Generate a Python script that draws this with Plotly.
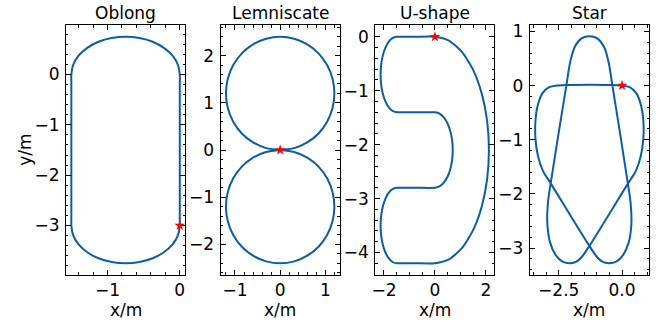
import plotly.graph_objects as go

# ---------------- data ----------------
titles = ["Oblong", "Lemniscate", "U-shape", "Star"]

oblong_x = [0, 0, 0, 0, 0, 0,
            -0.026, -0.100, -0.220, -0.375, -0.556, -0.75, -0.944, -1.125, -1.280, -1.400, -1.474, -1.5,
            -1.5, -1.5, -1.5, -1.5, -1.5,
            -1.474, -1.400, -1.280, -1.125, -0.944, -0.75, -0.556, -0.375, -0.220, -0.100, -0.026, 0]
oblong_y = [-3, -2.8, -2, -1, -0.2, 0,
            0.194, 0.375, 0.530, 0.650, 0.724, 0.75, 0.724, 0.650, 0.530, 0.375, 0.194, 0,
            -0.2, -1, -2, -2.8, -3,
            -3.194, -3.375, -3.530, -3.650, -3.724, -3.75, -3.724, -3.650, -3.530, -3.375, -3.194, -3]

lemni_x = [0, 0.311, 0.600, 0.849, 1.039, 1.159, 1.2, 1.159, 1.039, 0.849, 0.600, 0.311,
           0, -0.311, -0.600, -0.849, -1.039, -1.159, -1.2, -1.159, -1.039, -0.849, -0.600, -0.311,
           0, 0.311, 0.600, 0.849, 1.039, 1.159, 1.2, 1.159, 1.039, 0.849, 0.600, 0.311,
           0, -0.311, -0.600, -0.849, -1.039, -1.159, -1.2, -1.159, -1.039, -0.849, -0.600, -0.311, 0]
lemni_y = [0, 0.041, 0.161, 0.351, 0.600, 0.889, 1.2, 1.511, 1.800, 2.049, 2.239, 2.359,
           2.4, 2.359, 2.239, 2.049, 1.800, 1.511, 1.2, 0.889, 0.600, 0.351, 0.161, 0.041,
           0, -0.041, -0.161, -0.351, -0.600, -0.889, -1.2, -1.511, -1.800, -2.049, -2.239, -2.359,
           -2.4, -2.359, -2.239, -2.049, -1.800, -1.511, -1.2, -0.889, -0.600, -0.351, -0.161, -0.041, 0]

ushape_x = [0, -0.75, -1.3, -1.5,
            -1.663, -1.815, -1.945, -2.046, -2.109, -2.13, -2.109, -2.046, -1.945, -1.815, -1.663, -1.5,
            -1.3, -0.75, 0,
            0.181, 0.350, 0.495, 0.606, 0.676, 0.7, 0.676, 0.606, 0.495, 0.350, 0.181, 0,
            -0.75, -1.3, -1.5,
            -1.663, -1.815, -1.945, -2.046, -2.109, -2.13, -2.109, -2.046, -1.945, -1.815, -1.663, -1.5,
            -1.3, -0.75, 0,
            0.549, 1.060, 1.499, 1.836, 2.048, 2.12, 2.048, 1.836, 1.499, 1.060, 0.549, 0]
ushape_y = [0, 0, 0, 0,
            -0.024, -0.094, -0.205, -0.350, -0.519, -0.7, -0.881, -1.050, -1.195, -1.306, -1.376, -1.4,
            -1.4, -1.4, -1.4,
            -1.424, -1.494, -1.605, -1.750, -1.919, -2.1, -2.281, -2.450, -2.595, -2.706, -2.776, -2.8,
            -2.8, -2.8, -2.8,
            -2.824, -2.894, -3.005, -3.150, -3.319, -3.5, -3.681, -3.850, -3.995, -4.106, -4.176, -4.2,
            -4.2, -4.2, -4.2,
            -4.128, -3.919, -3.585, -3.150, -2.644, -2.1, -1.556, -1.050, -0.615, -0.281, -0.072, 0]

star_x = [0, 0.30, 0.56, 0.74, 0.84, 0.84, 0.74, 0.55,
          0.23, -1.29,
          -1.60, -1.80, -2.04, -2.35, -2.62, -2.84, -2.95, -2.93,
          -2.82, -2.20,
          -2.04, -1.86, -1.60, -1.29, -0.98, -0.72, -0.54,
          -0.38, 0.23,
          0.34, 0.37, 0.26, 0.04, -0.23, -0.54, -0.78, -0.98,
          -1.29, -2.81,
          -3.13, -3.32, -3.42, -3.42, -3.32, -3.14, -2.88,
          -2.58, 0]
star_y = [0, -0.03, -0.14, -0.35, -0.65, -0.98, -1.30, -1.57,
          -1.81, -2.96,
          -3.17, -3.25, -3.28, -3.25, -3.13, -2.90, -2.55, -2.18,
          -1.81, 0.0,
          0.45, 0.72, 0.87, 0.91, 0.87, 0.72, 0.45,
          0.0, -1.81,
          -2.18, -2.55, -2.90, -3.13, -3.25, -3.28, -3.25, -3.17,
          -2.96, -1.81,
          -1.57, -1.30, -0.98, -0.65, -0.35, -0.14, -0.03,
          0.0, 0]

start_x = [0, 0, 0, 0]
start_y = [-3, 0, 0, 0]

x_ranges = [[-1.575, 0.075], [-1.32, 1.32], [-2.345, 2.335], [-3.645, 1.065]]
y_ranges = [[-3.975, 0.975], [-2.64, 2.64], [-4.41, 0.21], [-3.49, 1.11]]
x_dtick = [1, 1, 2, 2.5]
x_minor = [0.2, 0.2, 0.5, 0.5]
x_fmt = ["", "", "", ".1f"]
y_dtick = [1, 1, 1, 1]
y_minor = [0.2, 0.2, 0.2, 0.2]

shapes_x = [oblong_x, lemni_x, ushape_x, star_x]
shapes_y = [oblong_y, lemni_y, ushape_y, star_y]
smoothing = [0.6, 1.0, 0.6, 1.0]

# ---------------- layout ----------------
W, H = 661, 324
FONT = "DejaVu Sans"
FS = 17
LINE_COLOR = "#0C5DA5"
lefts = [62.3, 217.85, 373.4, 528.95]
box_w = 120.0
top_px, bot_px = 21.7, 274.0

fig = go.Figure()
layout = dict(width=W, height=H, margin=dict(l=0, r=0, t=0, b=0),
              paper_bgcolor="white", plot_bgcolor="white", showlegend=False,
              font=dict(family=FONT, size=FS, color="black"))
annotations = []

for i in range(4):
    xa = "x" if i == 0 else f"x{i+1}"
    ya = "y" if i == 0 else f"y{i+1}"
    fig.add_trace(go.Scatter(x=shapes_x[i], y=shapes_y[i], mode="lines",
                             line=dict(color=LINE_COLOR, width=2, shape="spline",
                                       smoothing=smoothing[i]),
                             xaxis=xa, yaxis=ya, hoverinfo="skip"))
    fig.add_trace(go.Scatter(x=[start_x[i]], y=[start_y[i]], mode="markers",
                             marker=dict(symbol="star", size=8, color="red", line=dict(width=0)),
                             xaxis=xa, yaxis=ya, hoverinfo="skip"))
    x0 = lefts[i] / W
    x1 = (lefts[i] + box_w) / W
    y0 = (H - bot_px) / H
    y1 = (H - top_px) / H
    common = dict(showline=True, linecolor="black", linewidth=1, mirror="allticks",
                  ticks="inside", ticklen=5, tickwidth=1, tickcolor="black",
                  showgrid=False, zeroline=False,
                  tickfont=dict(family=FONT, size=FS, color="black"))
    xkey = "xaxis" if i == 0 else f"xaxis{i+1}"
    ykey = "yaxis" if i == 0 else f"yaxis{i+1}"
    layout[xkey] = dict(common, domain=[x0, x1], range=x_ranges[i], anchor=ya,
                        tick0=0, dtick=x_dtick[i], tickformat=x_fmt[i],
                        minor=dict(ticks="inside", ticklen=2.5, tickwidth=1, tickcolor="black",
                                   dtick=x_minor[i], tick0=0, showgrid=False))
    layout[ykey] = dict(common, domain=[y0, y1], range=y_ranges[i], anchor=xa,
                        tick0=0, dtick=y_dtick[i], ticklabelstandoff=2,
                        minor=dict(ticks="inside", ticklen=2.5, tickwidth=1, tickcolor="black",
                                   dtick=y_minor[i], tick0=0, showgrid=False))
    cx = (lefts[i] + box_w / 2) / W
    annotations.append(dict(text=titles[i], x=cx, y=(H - 9.0) / H, xref="paper", yref="paper",
                            xanchor="center", yanchor="middle", showarrow=False,
                            font=dict(family=FONT, size=FS, color="black")))
    annotations.append(dict(text="x/m", x=cx, y=(H - 309.5) / H, xref="paper", yref="paper",
                            xanchor="center", yanchor="middle", showarrow=False,
                            font=dict(family=FONT, size=FS, color="black")))

annotations.append(dict(text="y/m", x=21.7 / W, y=(H - 148) / H, xref="paper", yref="paper",
                        xanchor="center", yanchor="middle", showarrow=False, textangle=-90,
                        font=dict(family=FONT, size=FS, color="black")))
layout["annotations"] = annotations
fig.update_layout(**layout)
fig.write_html("out.html", config={"displayModeBar": False, "staticPlot": True},
               post_script="document.body.style.margin='0';document.body.style.overflow='hidden';")
